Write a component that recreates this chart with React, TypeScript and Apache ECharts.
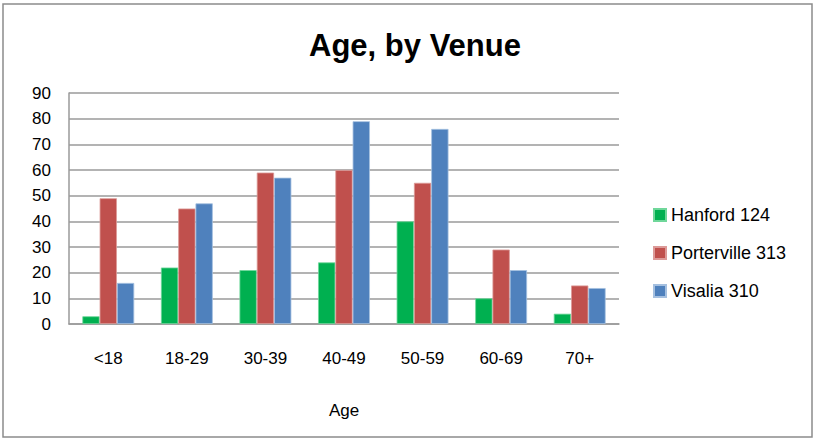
import React, { useEffect, useRef } from "react";
import * as echarts from "echarts";

const categories = ["<18", "18-29", "30-39", "40-49", "50-59", "60-69", "70+"];
const hanford = [3, 22, 21, 24, 40, 10, 4];
const porterville = [49, 45, 59, 60, 55, 29, 15];
const visalia = [16, 47, 57, 79, 76, 21, 14];
const seriesNames = ["Hanford 124", "Porterville 313", "Visalia 310"];
const seriesColors = ["#00B050", "#C0504D", "#4F81BD"];
const borderColors = ["#6fd79a", "#dc9a98", "#a5c0e0"];
const titleText = "Age, by Venue";
const xAxisName = "Age";

const FONT = "'Liberation Sans', Arial, sans-serif";

export default function App() {
  const ref = useRef<HTMLDivElement>(null);
  useEffect(() => {
    if (!ref.current) return;
    const chart = echarts.init(ref.current, null, { renderer: "svg" });
    const data = [hanford, porterville, visalia];
    chart.setOption({
      animation: false,
      backgroundColor: "#ffffff",
      title: {
        text: titleText,
        left: 410,
        top: 25,
        textAlign: "center",
        textStyle: { fontFamily: FONT, fontSize: 31, fontWeight: "bold", color: "#000" },
      },
      graphic: [
        {
          type: "rect",
          shape: { x: 3, y: 4, width: 809, height: 433 },
          style: { fill: "none", stroke: "#8c8c8c", lineWidth: 1.5 },
          silent: true,
        },
      ],
      legend: {
        orient: "vertical",
        left: 648,
        top: 200,
        itemWidth: 12,
        itemHeight: 12,
        itemGap: 18,
        icon: "rect",
        data: seriesNames,
        textStyle: { fontFamily: FONT, fontSize: 18, color: "#000", lineHeight: 20 },
      },
      grid: { left: 69, right: 195, top: 93, bottom: 114 },
      xAxis: {
        type: "category",
        data: categories,
        name: xAxisName,
        nameLocation: "middle",
        nameGap: 78,
        nameTextStyle: { fontFamily: FONT, fontSize: 17, color: "#000" },
        axisLine: { lineStyle: { color: "#9a9a9a", width: 1.5 } },
        axisTick: { show: false },
        axisLabel: { margin: 26, fontFamily: FONT, fontSize: 17, color: "#000" },
      },
      yAxis: {
        type: "value",
        min: 0,
        max: 90,
        interval: 10,
        axisLine: { show: true, lineStyle: { color: "#9a9a9a", width: 1.5 } },
        axisTick: { show: false },
        splitLine: { lineStyle: { color: "#9a9a9a", width: 1.5 } },
        axisLabel: { margin: 18, fontFamily: FONT, fontSize: 17, color: "#000" },
      },
      series: seriesNames.map((name, i) => ({
        name,
        type: "bar",
        data: data[i],
        barGap: "0%",
        barCategoryGap: "34%",
        itemStyle: { color: seriesColors[i], borderColor: borderColors[i], borderWidth: 0.8 },
      })),
    });
    return () => chart.dispose();
  }, []);
  return (
    <div
      ref={ref}
      style={{ position: "fixed", left: 0, top: 0, width: 814, height: 438 }}
    />
  );
}
